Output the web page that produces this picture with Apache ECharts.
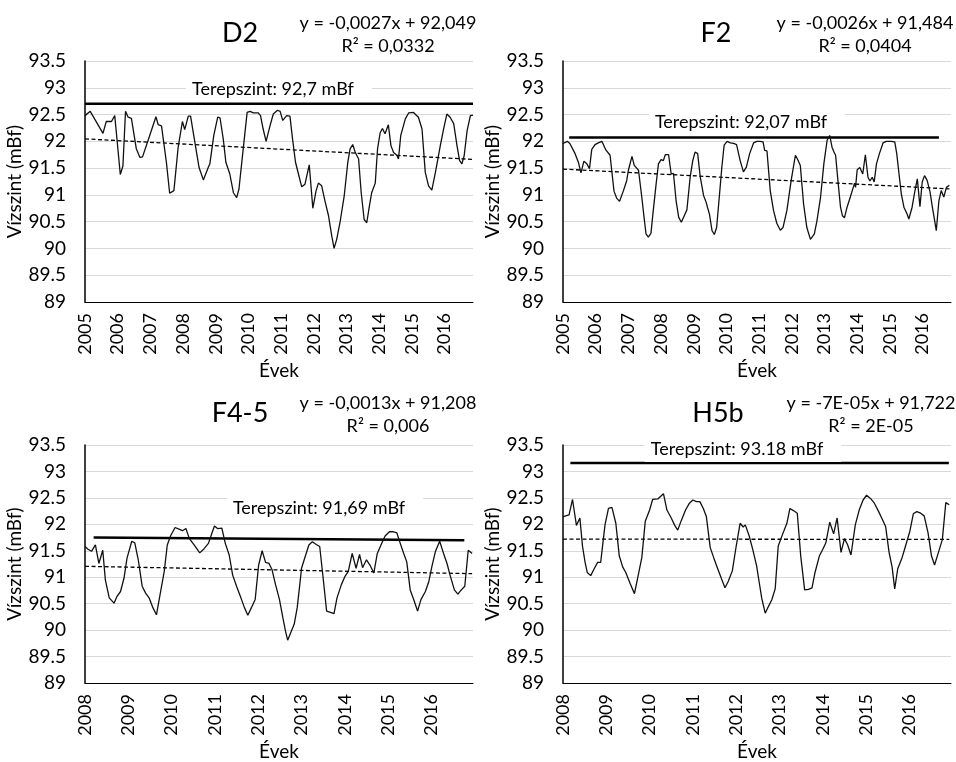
<!DOCTYPE html>
<html>
<head>
<meta charset="utf-8">
<title>Vízszint</title>
<script src="https://cdn.jsdelivr.net/npm/echarts@6/dist/echarts.min.js"></script>
<style>
  html, body { margin: 0; padding: 0; background: #fff; }
  #chart { width: 956px; height: 762px; }
</style>
</head>
<body>
<div id="chart"></div>
<script>
// D2 kút
var d2Years = [2005.00,2005.16,2005.55,2005.65,2005.81,2005.84,2005.91,2006.08,2006.16,2006.24,
  2006.32,2006.42,2006.57,2006.68,2006.76,2006.98,2007.17,2007.24,2007.34,2007.49,
  2007.59,2007.65,2007.72,2007.85,2007.98,2008.05,2008.16,2008.23,2008.31,2008.36,
  2008.49,2008.62,2008.77,2008.82,2008.94,2009.06,2009.13,2009.23,2009.31,2009.43,
  2009.54,2009.64,2009.71,2009.84,2009.96,2010.05,2010.15,2010.30,2010.37,2010.45,
  2010.54,2010.66,2010.76,2010.89,2010.97,2011.05,2011.17,2011.27,2011.35,2011.44,
  2011.53,2011.63,2011.73,2011.86,2011.97,2012.07,2012.14,2012.24,2012.34,2012.45,
  2012.55,2012.62,2012.70,2012.80,2012.93,2013.04,2013.11,2013.19,2013.27,2013.37,
  2013.45,2013.54,2013.62,2013.70,2013.77,2013.88,2013.95,2014.03,2014.10,2014.18,
  2014.28,2014.36,2014.44,2014.54,2014.59,2014.66,2014.80,2014.90,2015.05,2015.20,
  2015.31,2015.41,2015.51,2015.61,2015.72,2015.87,2015.97,2016.07,2016.17,2016.28,
  2016.38,2016.46,2016.53,2016.60,2016.69,2016.79,2016.87];
var d2Levels = [92.48,92.56,92.15,92.37,92.37,92.39,92.48,91.38,91.54,92.56,
  92.45,92.43,91.86,91.70,91.71,92.11,92.46,92.31,92.29,91.61,
  91.03,91.00,91.08,91.89,92.37,92.22,92.47,92.47,92.17,92.16,
  91.51,91.28,91.51,91.58,92.11,92.45,92.44,92.04,91.61,91.39,
  91.04,90.95,91.11,91.86,92.54,92.56,92.53,92.53,92.48,92.23,
  92.00,92.29,92.51,92.58,92.56,92.39,92.48,92.47,92.04,91.61,
  91.39,91.15,91.20,91.56,90.75,91.08,91.22,91.17,90.89,90.61,
  90.23,90.00,90.17,90.48,90.98,91.61,91.86,91.94,91.79,91.67,
  91.04,90.54,90.48,90.79,91.04,91.22,91.86,92.16,92.24,92.14,
  92.31,91.92,91.79,91.74,91.67,92.11,92.42,92.53,92.54,92.45,
  92.23,91.42,91.17,91.09,91.42,91.92,92.23,92.51,92.45,92.33,
  91.92,91.64,91.58,91.73,92.20,92.48,92.49];

// F2 kút
var f2Years = [2005.00,2005.13,2005.21,2005.37,2005.47,2005.55,2005.64,2005.73,2005.81,2005.88,
  2005.98,2006.08,2006.19,2006.24,2006.31,2006.37,2006.44,2006.56,2006.64,2006.73,
  2006.85,2006.95,2007.00,2007.11,2007.18,2007.24,2007.31,2007.41,2007.48,2007.54,
  2007.61,2007.69,2007.75,2007.85,2007.92,2008.00,2008.07,2008.13,2008.23,2008.31,
  2008.38,2008.46,2008.54,2008.62,2008.71,2008.79,2008.89,2008.97,2009.04,2009.12,
  2009.20,2009.30,2009.38,2009.42,2009.48,2009.56,2009.63,2009.70,2009.79,2009.86,
  2009.93,2010.02,2010.12,2010.22,2010.31,2010.42,2010.52,2010.61,2010.71,2010.83,
  2010.93,2011.03,2011.12,2011.17,2011.24,2011.34,2011.44,2011.54,2011.65,2011.73,
  2011.85,2011.98,2012.11,2012.18,2012.26,2012.36,2012.46,2012.57,2012.62,2012.69,
  2012.77,2012.88,2012.98,2013.08,2013.16,2013.23,2013.29,2013.34,2013.41,2013.49,
  2013.55,2013.61,2013.69,2013.79,2013.88,2013.92,2013.95,2014.00,2014.08,2014.12,
  2014.17,2014.25,2014.33,2014.39,2014.46,2014.52,2014.59,2014.68,2014.79,2014.89,
  2015.04,2015.15,2015.21,2015.28,2015.35,2015.43,2015.53,2015.58,2015.68,2015.76,
  2015.84,2015.92,2015.99,2016.06,2016.14,2016.23,2016.30,2016.37,2016.42,2016.50,
  2016.57,2016.65,2016.73,2016.82];
var f2Levels = [91.96,92.00,91.96,91.77,91.61,91.41,91.63,91.58,91.49,91.85,
  91.94,91.97,92.00,91.99,91.84,91.86,91.74,91.07,90.94,90.88,
  91.08,91.27,91.46,91.72,91.55,91.58,91.46,90.96,90.58,90.27,
  90.21,90.28,90.64,91.21,91.58,91.66,91.64,91.75,91.75,91.39,
  91.40,90.89,90.58,90.49,90.61,90.72,91.33,91.64,91.80,91.77,
  91.33,90.99,90.86,90.77,90.64,90.33,90.26,90.39,91.02,91.52,
  91.93,92.00,91.97,91.96,91.94,91.64,91.43,91.52,91.77,91.97,
  92.00,92.00,91.99,91.83,91.82,91.08,90.71,90.47,90.34,90.39,
  90.71,91.27,91.74,91.66,91.55,90.83,90.39,90.17,90.14,90.27,
  90.52,90.96,91.58,92.02,92.11,91.89,91.80,91.74,91.27,90.77,
  90.61,90.57,90.77,90.96,91.14,91.22,91.14,91.47,91.51,91.52,
  91.39,91.75,91.33,91.26,91.33,91.24,91.58,91.77,91.97,92.00,
  92.00,91.99,91.77,91.39,91.02,90.77,90.64,90.55,90.77,91.05,
  91.30,90.78,91.24,91.36,91.27,91.05,90.77,90.52,90.33,90.89,
  91.08,90.96,91.14,91.18];

// F4-5 kút
var f45Years = [2008.00,2008.07,2008.15,2008.24,2008.32,2008.41,2008.47,2008.56,2008.67,2008.74,
  2008.82,2008.90,2008.97,2009.08,2009.15,2009.23,2009.32,2009.40,2009.48,2009.57,
  2009.65,2009.72,2009.83,2009.90,2009.98,2010.08,2010.17,2010.25,2010.33,2010.41,
  2010.52,2010.65,2010.75,2010.85,2010.93,2010.99,2011.06,2011.16,2011.24,2011.33,
  2011.41,2011.50,2011.60,2011.68,2011.76,2011.84,2011.93,2012.01,2012.09,2012.17,
  2012.25,2012.32,2012.40,2012.49,2012.57,2012.63,2012.68,2012.75,2012.83,2012.90,
  2012.96,2013.00,2013.10,2013.17,2013.25,2013.34,2013.42,2013.50,2013.58,2013.65,
  2013.75,2013.82,2013.92,2014.00,2014.08,2014.17,2014.26,2014.34,2014.41,2014.50,
  2014.58,2014.67,2014.75,2014.84,2014.93,2015.03,2015.11,2015.20,2015.28,2015.36,
  2015.43,2015.51,2015.59,2015.68,2015.76,2015.86,2015.94,2016.01,2016.09,2016.19,
  2016.28,2016.36,2016.43,2016.53,2016.61,2016.69,2016.77,2016.85,2016.94];
var f45Levels = [91.58,91.53,91.49,91.61,91.26,91.51,90.95,90.61,90.51,90.64,
  90.73,90.98,91.36,91.68,91.65,91.33,90.83,90.70,90.61,90.42,
  90.29,90.61,91.11,91.61,91.79,91.94,91.91,91.88,91.92,91.73,
  91.61,91.46,91.54,91.64,91.83,91.97,91.92,91.93,91.64,91.42,
  91.04,90.83,90.61,90.43,90.28,90.42,90.58,91.23,91.50,91.28,
  91.26,91.14,90.86,90.58,90.23,89.98,89.81,89.95,90.11,90.42,
  90.86,91.17,91.43,91.61,91.67,91.62,91.58,90.98,90.36,90.34,
  90.31,90.61,90.86,91.01,91.11,91.45,91.17,91.43,91.18,91.33,
  91.23,91.08,91.45,91.62,91.78,91.86,91.86,91.84,91.64,91.45,
  91.29,90.76,90.58,90.36,90.58,90.73,90.92,91.20,91.48,91.68,
  91.45,91.26,91.04,90.76,90.68,90.76,90.83,91.51,91.45];

// H5b kút
var h5bYears = [2008.00,2008.06,2008.14,2008.22,2008.31,2008.39,2008.45,2008.51,2008.56,2008.64,
  2008.72,2008.80,2008.87,2008.97,2009.05,2009.13,2009.22,2009.30,2009.38,2009.45,
  2009.55,2009.65,2009.72,2009.82,2009.90,2010.00,2010.07,2010.19,2010.23,2010.32,
  2010.40,2010.50,2010.58,2010.65,2010.73,2010.83,2010.92,2011.00,2011.08,2011.16,
  2011.24,2011.31,2011.40,2011.48,2011.56,2011.66,2011.74,2011.81,2011.91,2012.00,
  2012.09,2012.16,2012.21,2012.30,2012.38,2012.47,2012.53,2012.59,2012.67,2012.74,
  2012.82,2012.90,2012.97,2013.07,2013.17,2013.24,2013.32,2013.41,2013.49,2013.58,
  2013.67,2013.75,2013.82,2013.92,2014.00,2014.07,2014.16,2014.25,2014.33,2014.42,
  2014.50,2014.57,2014.65,2014.75,2014.84,2014.93,2015.01,2015.10,2015.19,2015.29,
  2015.37,2015.45,2015.53,2015.60,2015.66,2015.73,2015.83,2015.91,2016.01,2016.09,
  2016.17,2016.26,2016.34,2016.43,2016.51,2016.58,2016.67,2016.76,2016.84,2016.92];
var h5bLevels = [92.14,92.16,92.18,92.47,91.98,92.12,91.59,91.28,91.09,91.03,
  91.16,91.28,91.28,91.99,92.30,92.32,92.02,91.40,91.19,91.09,
  90.88,90.69,90.97,91.37,92.06,92.27,92.47,92.48,92.49,92.58,
  92.27,92.12,91.98,91.89,92.07,92.27,92.40,92.46,92.43,92.43,
  92.30,92.15,91.56,91.37,91.19,90.97,90.80,90.91,91.12,91.59,
  92.02,91.95,91.99,91.78,91.53,91.22,90.91,90.60,90.32,90.44,
  90.57,90.78,91.59,91.81,92.02,92.30,92.26,92.21,91.40,90.76,
  90.77,90.80,91.09,91.40,91.53,91.65,92.04,91.82,92.12,91.47,
  91.73,91.62,91.42,91.99,92.27,92.46,92.55,92.49,92.40,92.24,
  92.10,91.96,91.47,91.19,90.78,91.16,91.37,91.59,91.87,92.20,
  92.24,92.21,92.16,91.84,91.40,91.23,91.47,91.71,92.41,92.37];

// terepszint vonalak (kezdő és záró év, szint)
var d2GroundYears = [2005.00, 2016.87];
var d2GroundLevels = [92.7, 92.7];
var f2GroundYears = [2005.19, 2016.50];
var f2GroundLevels = [92.07, 92.07];
var f45GroundYears = [2008.20, 2016.76];
var f45GroundLevels = [91.75, 91.70];
var h5bGroundYears = [2008.17, 2016.91];
var h5bGroundLevels = [93.16, 93.16];

// lineáris trend (x = hónap sorszáma)
var d2Trend = [-0.0027, 92.049];
var f2Trend = [-0.0026, 91.484];
var f45Trend = [-0.0013, 91.208];
var h5bTrend = [-0.00007, 91.722];

var yTicks = [89, 93.5, 0.5];

var FONT = 'Lato, "Open Sans", sans-serif';

var panels = [
  { title: 'D2', years: d2Years, levels: d2Levels, gx: d2GroundYears, gy: d2GroundLevels, trend: d2Trend,
    xMin: 2005, xMax: 2016.87, eq: ['y = -0,0027x + 92,049', 'R² = 0,0332'], ground: 'Terepszint: 92,7 mBf',
    grid: [85, 61], titlePos: [240, 33], eqPos: [388, 23], groundPos: [279, 89] },
  { title: 'F2', years: f2Years, levels: f2Levels, gx: f2GroundYears, gy: f2GroundLevels, trend: f2Trend,
    xMin: 2005, xMax: 2016.87, eq: ['y = -0,0026x + 91,484', 'R² = 0,0404'], ground: 'Terepszint: 92,07 mBf',
    grid: [563, 61], titlePos: [716, 33], eqPos: [865, 23], groundPos: [747, 122] },
  { title: 'F4-5', years: f45Years, levels: f45Levels, gx: f45GroundYears, gy: f45GroundLevels, trend: f45Trend,
    xMin: 2008, xMax: 2016.96, eq: ['y = -0,0013x + 91,208', 'R² = 0,006'], ground: 'Terepszint: 91,69 mBf',
    grid: [85, 445], titlePos: [240, 413], eqPos: [388, 403], groundPos: [325, 508] },
  { title: 'H5b', years: h5bYears, levels: h5bLevels, gx: h5bGroundYears, gy: h5bGroundLevels, trend: h5bTrend,
    xMin: 2008, xMax: 2016.96, eq: ['y = -7E-05x + 91,722', 'R² = 2E-05'], ground: 'Terepszint: 93.18 mBf',
    grid: [563, 445], titlePos: [718, 413], eqPos: [871, 403], groundPos: [743, 449] }
];

function txt(x, y, s, size, extra) {
  return {
    type: 'text', x: x, y: y, z: 100,
    style: Object.assign({
      text: s, font: size + 'px ' + FONT, fill: '#000',
      textAlign: 'center', textVerticalAlign: 'middle', align: 'center', verticalAlign: 'middle'
    }, extra || {})
  };
}

var grids = [], xAxes = [], yAxes = [], series = [], texts = [];

panels.forEach(function (p, i) {
  grids.push({ left: p.grid[0], top: p.grid[1], width: 388, height: 241 });

  xAxes.push({
    gridIndex: i, type: 'value', min: p.xMin, max: p.xMax, interval: 1,
    axisLine: { onZero: false, lineStyle: { color: '#000', width: 1 } },
    axisTick: { show: false },
    splitLine: { show: false },
    axisLabel: {
      rotate: 90, fontSize: 18, color: '#000', fontFamily: FONT, margin: 11,
      formatter: function (v) { return v % 1 === 0 ? String(v) : ''; }
    },
    name: 'Évek', nameLocation: 'middle', nameGap: 59,
    nameTextStyle: { fontSize: 19, color: '#000', fontFamily: FONT }
  });

  yAxes.push({
    gridIndex: i, type: 'value', min: yTicks[0], max: yTicks[1], interval: yTicks[2],
    axisLine: { show: true, lineStyle: { color: '#000', width: 1.5 } },
    axisTick: { show: false },
    splitLine: { lineStyle: { color: '#d9d9d9', width: 1 } },
    axisLabel: { fontSize: 19, color: '#000', fontFamily: FONT, margin: 19 },
    name: 'Vízszint (mBf)', nameLocation: 'middle', nameGap: 58,
    nameTextStyle: { fontSize: 19, color: '#000', fontFamily: FONT }
  });

  // mért vízszint
  series.push({
    type: 'line', xAxisIndex: i, yAxisIndex: i, showSymbol: false, symbol: 'none',
    data: p.years.map(function (y, k) { return [y, p.levels[k]]; }),
    lineStyle: { color: '#111', width: 1.3 }, silent: true, z: 3
  });

  // terepszint
  series.push({
    type: 'line', xAxisIndex: i, yAxisIndex: i, showSymbol: false, symbol: 'none',
    data: p.gx.map(function (y, k) { return [y, p.gy[k]]; }),
    lineStyle: { color: '#000', width: 2.5 }, silent: true, z: 2
  });

  // trendvonal az egyenletből
  var first = p.years[0], last = p.years[p.years.length - 1];
  var n1 = 1, n2 = Math.round((last - first) * 12) + 1;
  series.push({
    type: 'line', xAxisIndex: i, yAxisIndex: i, showSymbol: false, symbol: 'none',
    data: [[first, p.trend[1] + p.trend[0] * n1], [last, p.trend[1] + p.trend[0] * n2]],
    lineStyle: { color: '#000', width: 1.3, type: [4, 2.5] }, silent: true, z: 2
  });

  texts.push(txt(p.titlePos[0], p.titlePos[1], p.title, 27));
  texts.push(txt(p.eqPos[0], p.eqPos[1], p.eq[0], 18));
  texts.push(txt(p.eqPos[0], p.eqPos[1] + 23, p.eq[1], 18));
  texts.push(txt(p.groundPos[0], p.groundPos[1], p.ground, 18,
    { backgroundColor: '#fff', padding: [4, 18, 4, 6] }));
});

var chart = echarts.init(document.getElementById('chart'));
chart.setOption({
  animation: false,
  backgroundColor: '#fff',
  grid: grids,
  xAxis: xAxes,
  yAxis: yAxes,
  series: series,
  graphic: { elements: texts }
});
</script>
</body>
</html>
